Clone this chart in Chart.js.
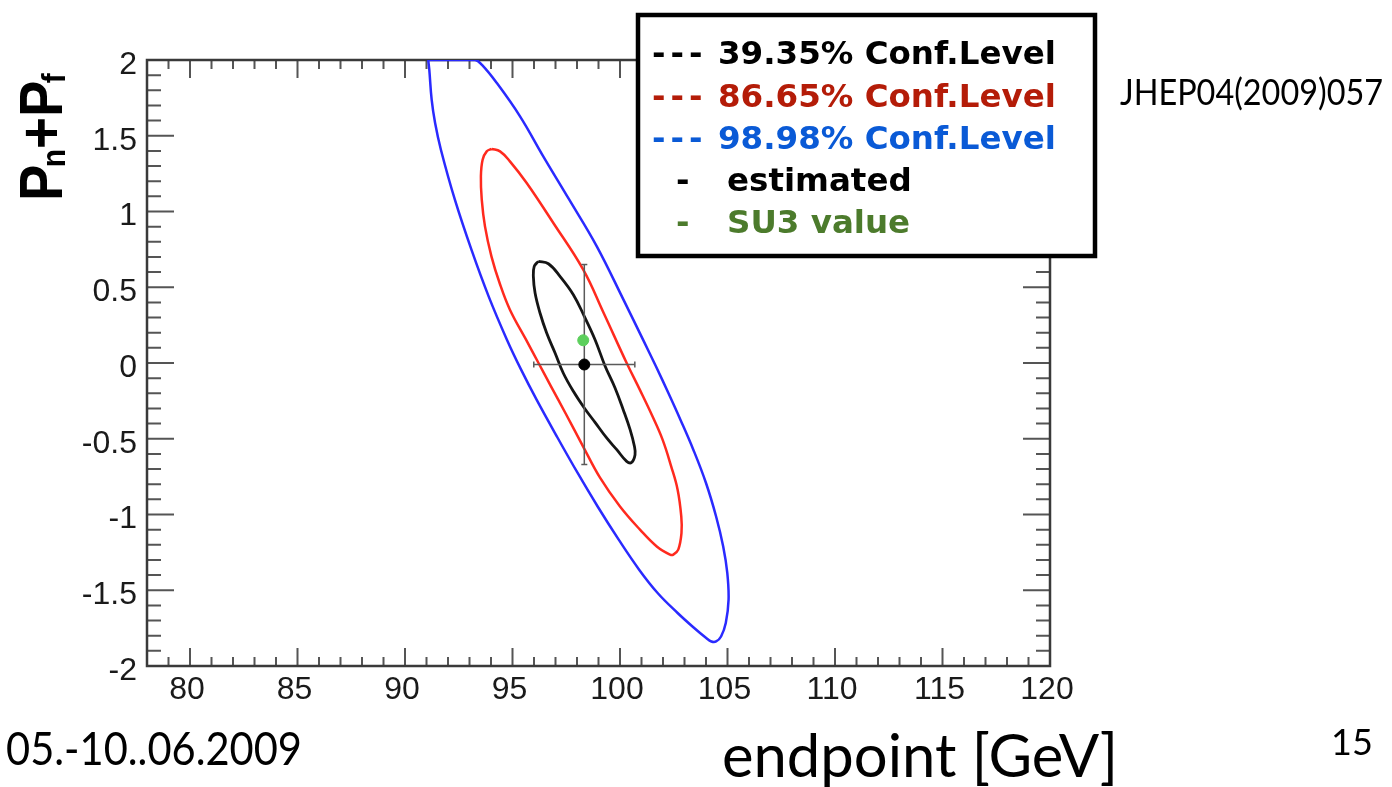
<!DOCTYPE html>
<html>
<head>
<meta charset="utf-8">
<script src="https://cdn.jsdelivr.net/npm/chart.js@4.4.1/dist/chart.umd.min.js"></script>
<style>
  html, body { margin: 0; padding: 0; background: #fff; }
  #wrap { width: 1392px; height: 787px; }
</style>
</head>
<body>
<div id="wrap"><canvas id="chart" width="1392" height="787"></canvas></div>
<script>
let xTicks = [80, 85, 90, 95, 100, 105, 110, 115, 120];
let yTicks = [-2, -1.5, -1, -0.5, 0, 0.5, 1, 1.5, 2];

// contour lines, walked clockwise from the top
let contour39 = [
  { x: 96.20, y: 0.671 }, { x: 96.67, y: 0.655 }, { x: 97.21, y: 0.572 }, { x: 97.83, y: 0.451 },
  { x: 98.34, y: 0.308 }, { x: 98.84, y: 0.154 }, { x: 99.30, y: -0.018 }, { x: 99.77, y: -0.165 },
  { x: 100.15, y: -0.308 }, { x: 100.47, y: -0.44 }, { x: 100.67, y: -0.55 }, { x: 100.70, y: -0.605 },
  { x: 100.54, y: -0.656 }, { x: 100.31, y: -0.649 }, { x: 99.85, y: -0.572 }, { x: 99.38, y: -0.495 },
  { x: 98.84, y: -0.392 }, { x: 98.34, y: -0.297 }, { x: 97.83, y: -0.187 }, { x: 97.36, y: -0.066 },
  { x: 96.98, y: 0.066 }, { x: 96.59, y: 0.198 }, { x: 96.28, y: 0.33 }, { x: 96.05, y: 0.462 },
  { x: 95.97, y: 0.572 }, { x: 96.01, y: 0.638 }, { x: 96.20, y: 0.671 }
];

let contour87 = [
  { x: 94.03, y: 1.413 }, { x: 94.42, y: 1.397 }, { x: 94.88, y: 1.331 }, { x: 95.66, y: 1.188 },
  { x: 96.90, y: 0.924 }, { x: 98.29, y: 0.616 }, { x: 99.24, y: 0.33 }, { x: 100.31, y: 0.0 },
  { x: 100.92, y: -0.176 }, { x: 101.51, y: -0.352 }, { x: 101.98, y: -0.506 }, { x: 102.38, y: -0.682 },
  { x: 102.68, y: -0.836 }, { x: 102.85, y: -1.013 }, { x: 102.86, y: -1.122 }, { x: 102.71, y: -1.232 },
  { x: 102.48, y: -1.265 }, { x: 102.33, y: -1.265 }, { x: 101.71, y: -1.211 }, { x: 100.93, y: -1.10 },
  { x: 100.0, y: -0.947 }, { x: 99.07, y: -0.757 }, { x: 98.28, y: -0.55 }, { x: 97.46, y: -0.33 },
  { x: 96.79, y: -0.154 }, { x: 96.21, y: 0.0 }, { x: 95.63, y: 0.154 }, { x: 94.88, y: 0.352 },
  { x: 94.40, y: 0.528 }, { x: 94.02, y: 0.704 }, { x: 93.72, y: 0.902 }, { x: 93.57, y: 1.078 },
  { x: 93.53, y: 1.232 }, { x: 93.61, y: 1.342 }, { x: 93.80, y: 1.397 }, { x: 94.03, y: 1.413 }
];

let contour99 = [
  { x: 91.08, y: 2.0 }, { x: 93.26, y: 2.0 }, { x: 93.57, y: 1.969 }, { x: 94.27, y: 1.848 },
  { x: 95.35, y: 1.628 }, { x: 96.43, y: 1.364 }, { x: 97.64, y: 1.078 }, { x: 98.92, y: 0.77 },
  { x: 100.16, y: 0.418 }, { x: 101.07, y: 0.154 }, { x: 101.67, y: -0.022 }, { x: 102.25, y: -0.198 },
  { x: 102.81, y: -0.374 }, { x: 103.41, y: -0.572 }, { x: 104.00, y: -0.792 }, { x: 104.47, y: -1.013 },
  { x: 104.80, y: -1.211 }, { x: 104.99, y: -1.386 }, { x: 105.05, y: -1.562 }, { x: 104.92, y: -1.716 },
  { x: 104.70, y: -1.805 }, { x: 104.47, y: -1.838 }, { x: 104.25, y: -1.838 }, { x: 104.01, y: -1.815 },
  { x: 103.37, y: -1.739 }, { x: 102.68, y: -1.65 }, { x: 101.75, y: -1.518 }, { x: 100.89, y: -1.364 },
  { x: 99.94, y: -1.166 }, { x: 98.96, y: -0.947 }, { x: 98.03, y: -0.726 }, { x: 97.06, y: -0.484 },
  { x: 96.12, y: -0.242 }, { x: 95.40, y: -0.044 }, { x: 94.74, y: 0.154 }, { x: 93.89, y: 0.44 },
  { x: 93.09, y: 0.748 }, { x: 92.32, y: 1.078 }, { x: 91.67, y: 1.408 }, { x: 91.40, y: 1.584 },
  { x: 91.24, y: 1.738 }, { x: 91.13, y: 1.936 }, { x: 91.08, y: 2.0 }
];

let estimated = { x: 98.34, y: -0.01 };
let estimatedErr = { x: 2.35, y: 0.66 };
let su3Value = { x: 98.29, y: 0.15 };

let legendMarks = ['---', '---', '---', '-', '-'];
let legendLabels = ['39.35% Conf.Level', '86.65% Conf.Level', '98.98% Conf.Level', 'estimated', 'SU3 value'];
let legendColors = ['#000000', '#b41c08', '#0a5ad6', '#000000', '#4c7b2c'];

let barColor = '#5a5a5a';

let frame = {
  id: 'frame',
  beforeDraw: (chart) => {
    let ctx = chart.ctx;
    ctx.save();
    ctx.fillStyle = '#fff';
    ctx.fillRect(0, 0, chart.width, chart.height);
    ctx.restore();
  },
  beforeDatasetsDraw: (chart) => {
    let ctx = chart.ctx;
    let a = chart.chartArea;
    let xs = chart.scales.x, ys = chart.scales.y;
    ctx.save();
    ctx.strokeStyle = '#555';
    ctx.lineWidth = 2;
    ctx.beginPath();
    // ticks point into the plot on all four sides
    for (let v = 78; v <= 120; v++) {
      let px = xs.getPixelForValue(v);
      let len = v % 5 === 0 ? 18 : 9;
      ctx.moveTo(px, a.bottom); ctx.lineTo(px, a.bottom - len);
      ctx.moveTo(px, a.top); ctx.lineTo(px, a.top + len);
    }
    for (let i = -20; i <= 20; i++) {
      let py = ys.getPixelForValue(i / 10);
      let len = i % 5 === 0 ? 27 : 14;
      ctx.moveTo(a.left, py); ctx.lineTo(a.left + len, py);
      ctx.moveTo(a.right, py); ctx.lineTo(a.right - len, py);
    }
    ctx.stroke();
    ctx.strokeStyle = '#3a3a3a';
    ctx.lineWidth = 2.5;
    ctx.strokeRect(a.left, a.top, a.right - a.left, a.bottom - a.top);
    ctx.restore();
  },
  afterDraw: (chart) => {
    let ctx = chart.ctx;
    ctx.save();

    // legend box
    ctx.fillStyle = '#fff';
    ctx.fillRect(638, 15, 457, 241);
    ctx.strokeStyle = '#000';
    ctx.lineWidth = 4.5;
    ctx.strokeRect(638, 15, 457, 241);

    let baselines = [64, 107, 149, 191, 233];
    ctx.textBaseline = 'alphabetic';
    ctx.textAlign = 'left';
    ctx.font = 'bold 32.5px "DejaVu Sans"';
    legendLabels.forEach((label, i) => {
      ctx.fillStyle = legendColors[i];
      let wide = legendMarks[i].length > 1;
      ctx.letterSpacing = '5px';
      ctx.fillText(legendMarks[i], wide ? 652 : 676, baselines[i]);
      ctx.letterSpacing = '0px';
      if (wide) ctx.fillText(label, 718, baselines[i], 339);
      else ctx.fillText(label, 727, baselines[i], 190);
    });

    // y axis title P_n+P_f, read bottom to top
    ctx.fillStyle = '#000';
    ctx.translate(62, 201);
    ctx.rotate(-Math.PI / 2);
    ctx.scale(0.88, 1);
    let parts = [
      { t: 'P', size: 62, dy: 0, dx: 0 },
      { t: 'n', size: 34, dy: 3, dx: -3 },
      { t: '+', size: 62, dy: 0, dx: 0 },
      { t: 'P', size: 62, dy: 0, dx: 0 },
      { t: 'f', size: 34, dy: 3, dx: -3 }
    ];
    let pos = 0;
    parts.forEach(p => {
      ctx.font = 'bold ' + p.size + 'px "Liberation Sans"';
      pos += p.dx;
      ctx.fillText(p.t, pos, p.dy);
      pos += ctx.measureText(p.t).width;
    });
    ctx.setTransform(1, 0, 0, 1, 0, 0);

    ctx.fillStyle = '#000';
    ctx.font = '36px Lato';
    ctx.fillText('JHEP04(2009)057', 1120, 105, 263);
    ctx.font = '46px Lato';
    ctx.fillText('05.-10..06.2009', 6, 765, 296);
    ctx.font = '60px Lato';
    ctx.fillText('endpoint [GeV]', 722, 777, 396);
    ctx.font = '36px Lato';
    ctx.fillText('15', 1331, 755);
    ctx.restore();
  }
};

let tickFont = { family: 'Liberation Sans', size: 32 };

let chart = new Chart(document.getElementById('chart'), {
  type: 'scatter',
  data: {
    datasets: [
      {
        label: 'SU3 value',
        data: [su3Value],
        pointRadius: 5.5,
        pointBackgroundColor: '#5ccf5c',
        pointBorderColor: '#5ccf5c'
      },
      {
        label: 'estimated',
        data: [estimated],
        pointRadius: 5.5,
        pointBackgroundColor: '#000',
        pointBorderColor: '#000'
      },
      {
        label: 'error x',
        data: [
          { x: estimated.x - estimatedErr.x, y: estimated.y },
          { x: estimated.x + estimatedErr.x, y: estimated.y }
        ],
        showLine: true,
        borderColor: barColor,
        borderWidth: 1.5,
        pointStyle: 'line',
        pointRotation: 90,
        pointRadius: 3,
        pointBorderColor: barColor,
        pointBorderWidth: 1.5
      },
      {
        label: 'error y',
        data: [
          { x: estimated.x, y: estimated.y - estimatedErr.y },
          { x: estimated.x, y: estimated.y + estimatedErr.y }
        ],
        showLine: true,
        borderColor: barColor,
        borderWidth: 1.5,
        pointStyle: 'line',
        pointRotation: 0,
        pointRadius: 3,
        pointBorderColor: barColor,
        pointBorderWidth: 1.5
      },
      {
        label: '39.35% Conf.Level',
        data: contour39,
        showLine: true,
        tension: 0.4,
        borderColor: '#151515',
        borderWidth: 2.8,
        pointRadius: 0
      },
      {
        label: '86.65% Conf.Level',
        data: contour87,
        showLine: true,
        tension: 0.4,
        borderColor: '#ff2a1e',
        borderWidth: 2.5,
        pointRadius: 0
      },
      {
        label: '98.98% Conf.Level',
        data: contour99,
        showLine: true,
        tension: 0.4,
        borderColor: '#2a2aff',
        borderWidth: 2.5,
        pointRadius: 0
      }
    ]
  },
  options: {
    responsive: false,
    devicePixelRatio: 1,
    animation: false,
    layout: { padding: { top: 60, right: 342, bottom: 0, left: 0 } },
    plugins: {
      legend: { display: false },
      tooltip: { enabled: false }
    },
    scales: {
      x: {
        type: 'linear',
        min: 78,
        max: 120,
        grid: { display: false, drawTicks: false },
        border: { display: false },
        ticks: {
          font: tickFont,
          color: '#1a1a1a',
          padding: 5,
          labelOffset: -3,
          autoSkip: false,
          maxRotation: 0,
          callback: v => String(v)
        },
        afterBuildTicks: s => { s.ticks = xTicks.map(v => ({ value: v })); },
        afterFit: s => { s.height = 121; }
      },
      y: {
        type: 'linear',
        min: -2,
        max: 2,
        grid: { display: false, drawTicks: false },
        border: { display: false },
        ticks: {
          font: tickFont,
          color: '#1a1a1a',
          padding: 10,
          labelOffset: 5,
          autoSkip: false,
          callback: v => String(v)
        },
        afterBuildTicks: s => { s.ticks = yTicks.map(v => ({ value: v })); },
        afterFit: s => { s.width = 147; }
      }
    }
  },
  plugins: [frame]
});
</script>
</body>
</html>
